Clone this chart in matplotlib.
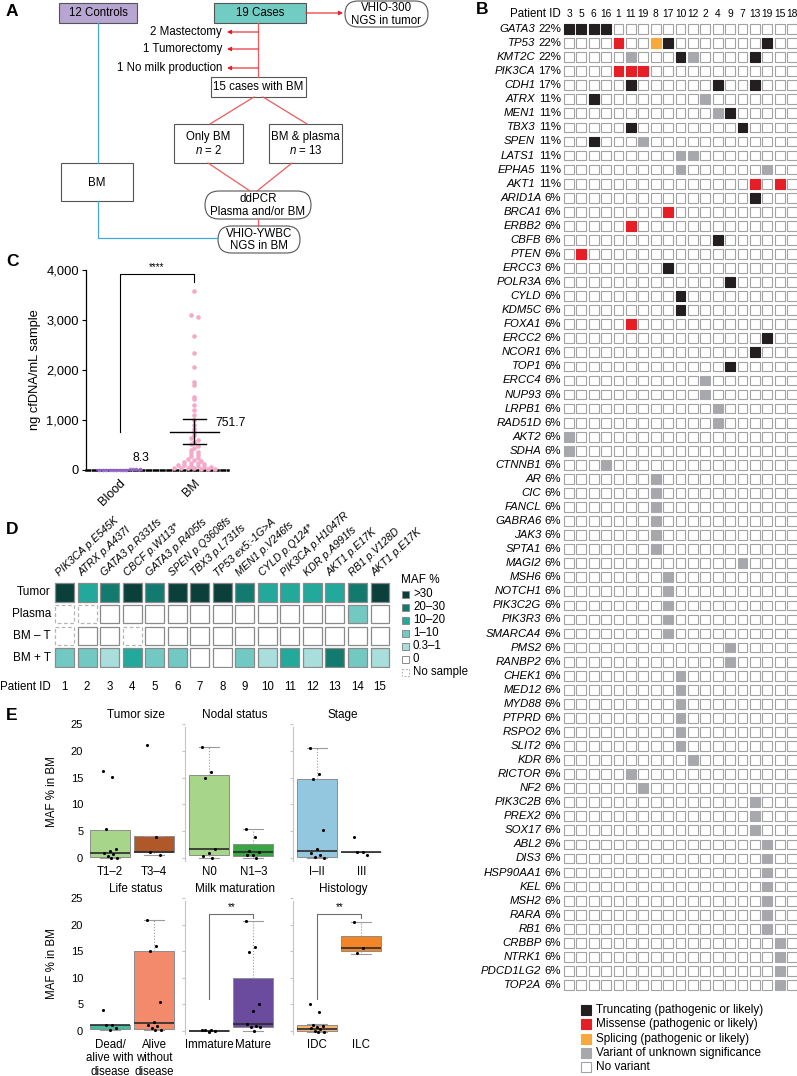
import numpy as np
import matplotlib.pyplot as plt
from matplotlib.patches import Rectangle, FancyBboxPatch

plt.rcParams['font.family'] = ['Liberation Sans', 'DejaVu Sans']
plt.rcParams['mathtext.fontset'] = 'custom'
plt.rcParams['mathtext.rm'] = 'Liberation Sans'
plt.rcParams['mathtext.it'] = 'Liberation Sans:italic'

W, H = 797, 1076
RED = '#f0595d'
BLUE = '#45aadb'
EDGE = '#555555'

# ---------------- panel B: mutations per patient
b_patients = ['3', '5', '6', '16', '1', '11', '19', '8', '17', '10',
              '12', '2', '4', '9', '7', '13', '19', '15', '18']
b_genes = ['GATA3', 'TP53', 'KMT2C', 'PIK3CA', 'CDH1', 'ATRX', 'MEN1', 'TBX3',
           'SPEN', 'LATS1', 'EPHA5', 'AKT1', 'ARID1A', 'BRCA1', 'ERBB2', 'CBFB',
           'PTEN', 'ERCC3', 'POLR3A', 'CYLD', 'KDM5C', 'FOXA1', 'ERCC2', 'NCOR1',
           'TOP1', 'ERCC4', 'NUP93', 'LRPB1', 'RAD51D', 'AKT2', 'SDHA', 'CTNNB1',
           'AR', 'CIC', 'FANCL', 'GABRA6', 'JAK3', 'SPTA1', 'MAGI2', 'MSH6',
           'NOTCH1', 'PIK3C2G', 'PIK3R3', 'SMARCA4', 'PMS2', 'RANBP2', 'CHEK1',
           'MED12', 'MYD88', 'PTPRD', 'RSPO2', 'SLIT2', 'KDR', 'RICTOR', 'NF2',
           'PIK3C2B', 'PREX2', 'SOX17', 'ABL2', 'DIS3', 'HSP90AA1', 'KEL', 'MSH2',
           'RARA', 'RB1', 'CRBBP', 'NTRK1', 'PDCD1LG2', 'TOP2A']
b_freq = [22, 22, 22, 17, 17] + [11] * 7 + [6] * 57
# T truncating, M missense, S splicing, V unknown significance, . none
b_calls = [
    'TTTT...............', '....M..ST.......T..', '.....V...TV....T...',
    '....MMM............', '.....T......T..T...', '..T........V.......',
    '............VT.....', '.....T........T....', '..T...V............',
    '.........VV........', '.........V......V..', '...............M.M.',
    '...............T...', '........M..........', '.....M.............',
    '............T......', '.M.................', '........T..........',
    '.............T.....', '.........T.........', '.........T.........',
    '.....M.............', '................T..', '...............T...',
    '.............T.....', '...........V.......', '...........V.......',
    '............V......', '............V......', 'V..................',
    'V..................', '...V...............', '.......V...........',
    '.......V...........', '.......V...........', '.......V...........',
    '.......V...........', '.......V...........', '..............V....',
    '........V..........', '........V..........', '........V..........',
    '........V..........', '........V..........', '.............V.....',
    '.............V.....', '.........V.........', '.........V.........',
    '.........V.........', '.........V.........', '.........V.........',
    '.........V.........', '..........V........', '.....V.............',
    '......V............', '...............V...', '...............V...',
    '...............V...', '................V..', '................V..',
    '................V..', '................V..', '................V..',
    '................V..', '................V..', '.................V.',
    '.................V.', '.................V.', '.................V.',
]
b_colors = {'T': '#231f20', 'M': '#e61e25', 'S': '#f7a93b', 'V': '#a6a8ab', '.': 'white'}
b_legend = [('T', 'Truncating (pathogenic or likely)'),
            ('M', 'Missense (pathogenic or likely)'),
            ('S', 'Splicing (pathogenic or likely)'),
            ('V', 'Variant of unknown significance'),
            ('.', 'No variant')]

# ---------------- panel C: cfDNA yield
c_groups = ['Blood', 'BM']
c_blood = [2, 4, 5, 6, 7, 8, 8, 9, 10, 11, 12, 13, 13]
c_bm = [3580, 3110, 3060, 2690, 2350, 2070, 1760, 1710, 1460, 1420, 1300, 1200,
        1100, 1000, 900, 820, 760, 700, 650, 600, 560, 520, 480, 440, 400, 370,
        340, 310, 280, 250, 230, 210, 190, 170, 150, 140, 120, 110, 100, 90, 80,
        70, 60, 50, 45, 40, 35, 30, 25, 20]
c_mean_labels = ['8.3', '751.7']

# ---------------- panel D: MAF heatmap
d_variants = ['PIK3CA p.E545K', 'ATRX p.A437I', 'GATA3 p.R331fs', 'CBCF p.W113*',
              'GATA3 p.R405fs', 'SPEN p.Q3608fs', 'TBX3 p.L731fs', 'TP53 ex5:-1G>A',
              'MEN1 p.V246fs', 'CYLD p.Q124*', 'PIK3CA p.H1047R', 'KDR p.A991fs',
              'AKT1 p.E17K', 'RB1 p.V128D', 'AKT1 p.E17K']
d_rows = ['Tumor', 'Plasma', 'BM \u2013 T', 'BM + T']
d_bins = ['0', '0.3\u20131', '1\u201310', '10\u201320', '20\u201330', '>30']
d_colors = ['white', '#a9dedd', '#72c9c4', '#22a99b', '#137a70', '#0b3f3a']
# bin index per cell, -1 = no sample
d_matrix = [
    [5, 3, 4, 5, 4, 5, 5, 5, 4, 3, 3, 3, 3, 4, 5],
    [-1, -1, 0, 0, 0, 0, 0, 0, 0, 0, 0, 0, 0, 2, 0],
    [-1, 0, 0, -1, 0, 0, 0, 0, 0, 0, 0, 0, 0, 0, 0],
    [2, 2, 1, 3, 2, 2, 0, 0, 2, 1, 3, 1, 4, 2, 1],
]

# ---------------- panel E: MAF % in BM by clinical variable
e_titles = ['Tumor size', 'Nodal status', 'Stage',
            'Life status', 'Milk maturation', 'Histology']
e_labels = [['T1\u20132', 'T3\u20134'], ['N0', 'N1\u20133'], ['I\u2013II', 'III'],
            ['Dead/\nalive with\ndisease', 'Alive\nwithout\ndisease'],
            ['Immature', 'Mature'], ['IDC', 'ILC']]
e_colors = [['#a7d68b', '#b0582a'], ['#a7d68b', '#39a544'], ['#93c6df', '#7fb6d6'],
            ['#3dbf9f', '#f48a6c'], ['#4b2d86', '#6a4b9d'], ['#f8b46e', '#f48526']]
# q1, median, q3, whisker low, whisker high
e_boxes = [
    [(0.2, 0.95, 5.3, 0.0, 5.3), (1.05, 1.1, 4.05, 0.5, 4.05)],
    [(0.6, 1.7, 15.4, 0.1, 20.8), (0.4, 1.1, 2.6, 0.0, 5.4)],
    [(0.2, 1.25, 14.75, 0.0, 20.5), (1.05, 1.1, 1.15, 1.05, 1.15)],
    [(0.45, 1.07, 1.2, 0.1, 1.2), (0.45, 1.55, 15.05, 0.1, 20.9)],
    [(0.0, 0.05, 0.1, 0.0, 0.1), (0.75, 1.4, 9.9, 0.0, 20.6)],
    [(-0.05, 0.45, 1.05, -0.1, 1.3), (15.1, 15.55, 17.9, 14.4, 20.5)],
]
e_points = [
    [[16.2, 15.1, 5.4, 1.7, 1.3, 0.9, 0.7, 0.4, 0.1, 0.0], [21.0, 4.0, 1.2, 0.5]],
    [[20.8, 16.0, 15.0, 1.7, 1.0, 0.3, 0.1], [5.4, 4.0, 1.3, 1.2, 0.6, 0.5, 0.1]],
    [[20.5, 15.6, 14.8, 5.3, 1.6, 1.0, 0.5, 0.2, 0.1], [4.0, 1.2, 1.1, 0.5]],
    [[4.0, 1.2, 1.1, 0.5, 0.1], [20.9, 16.0, 15.0, 5.4, 1.7, 1.2, 0.9, 0.5, 0.2, 0.1]],
    [[0.2, 0.1, 0.1, 0.0, -0.2], [20.6, 15.7, 14.8, 5.1, 3.7, 1.3, 1.0, 0.8, 0.7, 0.0]],
    [[5.0, 3.6, 1.2, 1.0, 0.7, 0.5, 0.3, 0.0, -0.1, -0.2], [20.5, 15.6, 14.7]],
]
e_sig = [None, None, None, None, (6.1, 22.0, 21.2), (6.1, 22.0, 21.2)]


fig = plt.figure(figsize=(W / 100, H / 100), dpi=100)


def px_axes(x0, y0, x1, y1):
    return fig.add_axes([x0 / W, 1 - y1 / H, (x1 - x0) / W, (y1 - y0) / H])


ov = fig.add_axes([0, 0, 1, 1])
ov.set_xlim(0, W)
ov.set_ylim(H, 0)
ov.axis('off')

for lab, x, y in [('A', 6, 11), ('B', 476, 9), ('C', 6, 262), ('D', 6, 530), ('E', 6, 716)]:
    ov.text(x, y, lab, fontsize=12.5, fontweight='bold', ha='left', va='center')


# ---------------- panel A flowchart
def box(x0, y0, x1, y1, text, fc='white', rounded=False):
    if rounded:
        p = FancyBboxPatch((x0, y0), x1 - x0, y1 - y0,
                           boxstyle='round,pad=0,rounding_size=%.1f' % ((y1 - y0) / 2),
                           fc=fc, ec=EDGE, lw=0.8)
    else:
        p = Rectangle((x0, y0), x1 - x0, y1 - y0, fc=fc, ec=EDGE, lw=0.8)
    ov.add_patch(p)
    ov.text((x0 + x1) / 2, (y0 + y1) / 2 + 0.5, text, ha='center', va='center',
            fontsize=8.3, linespacing=1.1)


def arrow(x0, x1, y):
    ov.annotate('', xy=(x1, y), xytext=(x0, y),
                arrowprops=dict(arrowstyle='-|>', color='#e61e25', lw=0.8,
                                mutation_scale=6, shrinkA=0, shrinkB=0))


ov.plot([258, 258], [23, 77], color=RED, lw=0.9)
ov.plot([254, 210], [97, 124], color=RED, lw=0.9)
ov.plot([263, 307], [97, 124], color=RED, lw=0.9)
ov.plot([208, 250], [163, 191], color=RED, lw=0.9)
ov.plot([292, 257], [163, 191], color=RED, lw=0.9)
ov.plot([258, 258], [219, 226], color=RED, lw=0.9)
ov.plot([98, 98], [23, 163], color=BLUE, lw=0.9)
ov.plot([98, 98, 218], [201, 238, 238], color=BLUE, lw=0.9)

box(59, 3, 137, 23, '12 Controls', fc='#b7a5d2')
box(214, 3, 306, 23, '19 Cases', fc='#71ccc4')
arrow(306, 343, 13)
box(345, 1, 428, 27, 'VHIO-300\nNGS in tumor', rounded=True)
for y, t in [(32, '2 Mastectomy'), (49, '1 Tumorectomy'), (68, '1 No milk production')]:
    arrow(258, 227, y)
    ov.text(222, y, t, ha='right', va='center', fontsize=8.3)
box(211, 77, 306, 97, '15 cases with BM')
box(174, 124, 243, 163, 'Only BM\n$n$ = 2')
box(269, 124, 342, 163, 'BM & plasma\n$n$ = 13')
box(205, 191, 311, 219, 'ddPCR\nPlasma and/or BM', rounded=True)
box(218, 226, 300, 253, 'VHIO-YWBC\nNGS in BM', rounded=True)
box(61, 163, 133, 201, 'BM')

# ---------------- panel B
n_col = len(b_patients)
n_row = len(b_genes)
row_h = (985 - 29) / (n_row - 1)
col_w = (792 - 569) / (n_col - 1)
bx = px_axes(569 - col_w / 2, 29 - row_h / 2, 792 + col_w / 2, 985 + row_h / 2)
bx.set_xlim(-0.5, n_col - 0.5)
bx.set_ylim(n_row - 0.5, -0.5)
bx.axis('off')

xs, ys, fcs, ecs = [], [], [], []
for j, calls in enumerate(b_calls):
    for i, ch in enumerate(calls):
        xs.append(i)
        ys.append(j)
        fcs.append(b_colors[ch])
        ecs.append('#a3a3a3' if ch == '.' else b_colors[ch])
bx.scatter(xs, ys, s=50, marker='s', c=fcs, edgecolors=ecs, linewidths=0.8, clip_on=False)

for i, pid in enumerate(b_patients):
    bx.text(i, -1.05, pid, ha='center', va='center', fontsize=7.4)
bx.text(-0.65, -1.05, 'Patient ID', ha='right', va='center', fontsize=8.3)
for j, (g, f) in enumerate(zip(b_genes, b_freq)):
    bx.text(-0.65, j, f'{f}%', ha='right', va='center', fontsize=8.2)
    off = -18.6 if f >= 10 else -14.1
    bx.annotate(g, xy=(-0.65, j), xytext=(off, 0), textcoords='offset points',
                ha='right', va='center', fontsize=8.2, style='italic',
                annotation_clip=False)

for k, (code, lab) in enumerate(b_legend):
    y = 1010 + k * 14.3
    ov.add_patch(Rectangle((581, y - 5), 10, 10, fc=b_colors[code],
                           ec='#a3a3a3' if code == '.' else b_colors[code], lw=0.8))
    ov.text(596, y, lab, ha='left', va='center', fontsize=8.5)

# ---------------- panel C
cx = px_axes(86, 270, 228, 470)
cx.set_xlim(-0.45, 1.45)
cx.set_ylim(0, 4000)


def swarm(vals, binsize, step):
    vals = np.asarray(vals, float)
    bins = np.floor(vals / binsize).astype(int)
    offs = np.zeros(len(vals))
    for b in np.unique(bins):
        idx = np.where(bins == b)[0]
        offs[idx] = (np.arange(len(idx)) - (len(idx) - 1) / 2) * step
    return offs


blood = np.array(c_blood, float)
bm = np.array(c_bm, float)
cx.scatter(0 + swarm(blood, 100, 0.045), blood, s=7, color='#a27bd0', lw=0, clip_on=False, zorder=3)
cx.scatter(1 + swarm(bm, 60, 0.09), bm, s=11, color='#f5a9c9', lw=0, clip_on=False, zorder=3)

cx.plot([-0.3, 0.3], [blood.mean()] * 2, color='#8a5cc2', lw=1.2, zorder=4, clip_on=False)
m = bm.mean()
ci = 1.96 * bm.std(ddof=1) / np.sqrt(len(bm))
cx.plot([1 - 0.33, 1 + 0.33], [m, m], color='black', lw=1, zorder=4)
cx.plot([1, 1], [m - ci, m + ci], color='black', lw=1, zorder=4)
for v in (m - ci, m + ci):
    cx.plot([1 - 0.15, 1 + 0.15], [v, v], color='black', lw=1, zorder=4)
cx.text(0.29, 240, c_mean_labels[0], ha='center', va='center', fontsize=8.8)
cx.text(1.28, 940, c_mean_labels[1], ha='left', va='center', fontsize=8.8)

cx.plot([0, 0, 1, 1], [760, 3920, 3920, 3760], color='black', lw=0.8, clip_on=False)
cx.text(0.5, 3960, '****', ha='center', va='bottom', fontsize=7, clip_on=False)

cx.set_yticks([0, 1000, 2000, 3000, 4000])
cx.set_yticklabels([f'{v:,}' for v in [0, 1000, 2000, 3000, 4000]], fontsize=9.3)
cx.set_xticks([0, 1])
cx.set_xticklabels(c_groups, rotation=45, ha='right', rotation_mode='anchor', fontsize=9)
cx.tick_params(axis='x', length=0, pad=5)
cx.tick_params(axis='y', length=3, width=0.8, pad=2)
cx.set_ylabel('ng cfDNA/mL sample', fontsize=9.3, labelpad=4)
for s in ('top', 'right'):
    cx.spines[s].set_visible(False)
cx.spines['left'].set_linewidth(0.9)
cx.spines['bottom'].set_linewidth(1.8)
cx.spines['bottom'].set_linestyle((0, (1.5, 1.2)))

# ---------------- panel D
n_var = len(d_variants)
dx = px_axes(53.25, 581.6, 391.25, 668.4)
dx.set_xlim(-0.5, n_var - 0.5)
dx.set_ylim(len(d_rows) - 0.5, -0.5)
dx.axis('off')
for j, row in enumerate(d_matrix):
    for i, v in enumerate(row):
        if v < 0:
            p = Rectangle((i - 0.42, j - 0.42), 0.84, 0.84, fc='white', ec='#b5b5b5',
                          lw=0.9, ls=(0, (3, 2)))
        else:
            p = Rectangle((i - 0.42, j - 0.42), 0.84, 0.84, fc=d_colors[v], ec='#8a8a8a', lw=0.9)
        dx.add_patch(p)
for j, r in enumerate(d_rows):
    dx.text(-0.6, j, r, ha='right', va='center', fontsize=8.5)
for i, v in enumerate(d_variants):
    dx.text(i - 0.15, -0.66, v, rotation=43, ha='left', va='bottom',
            rotation_mode='anchor', fontsize=7.7, style='italic')
    dx.text(i, 4.35, str(i + 1), ha='center', va='center', fontsize=8.3)
dx.text(-0.6, 4.35, 'Patient ID', ha='right', va='center', fontsize=8.3)

ov.text(401, 580, 'MAF %', ha='left', va='center', fontsize=8.5)
for k, b in enumerate(d_bins[::-1]):
    y = 594 + k * 13
    ov.add_patch(Rectangle((402, y - 3.5), 7, 7, fc=d_colors[::-1][k], ec='#8a8a8a', lw=0.7))
    ov.text(413, y, b, ha='left', va='center', fontsize=8.3)
ov.add_patch(Rectangle((402, 672 - 3.5), 7, 7, fc='white', ec='#b5b5b5', lw=0.7, ls=(0, (2, 1.5))))
ov.text(413, 672, 'No sample', ha='left', va='center', fontsize=8.3)

# ---------------- panel E
lefts = [86, 185, 293]
rows_px = [(721.3, 863.4), (895.3, 1036.3)]
for k in range(6):
    r, c = divmod(k, 3)
    y0, y1 = rows_px[r]
    ax = px_axes(lefts[c], y0, lefts[c] + 100, y1)
    stats = [dict(q1=b[0], med=b[1], q3=b[2], whislo=b[3], whishi=b[4], fliers=[])
             for b in e_boxes[k]]
    bp = ax.bxp(stats, positions=[1, 2], widths=0.9, patch_artist=True, capwidths=0.45,
                showfliers=False, manage_ticks=False,
                boxprops=dict(edgecolor='#8c8c8c', lw=0.7),
                whiskerprops=dict(color='#9a9a9a', lw=0.8, ls=':'),
                capprops=dict(color='#9a9a9a', lw=0.8),
                medianprops=dict(color='#2b2b2b', lw=1.2))
    for patch, col in zip(bp['boxes'], e_colors[k]):
        patch.set_facecolor(col)
    for g in range(2):
        vals = np.array(e_points[k][g], float)
        jit = np.array([((n * 0.618) % 1 - 0.5) * 0.34 for n in range(len(vals))])
        ax.scatter(g + 1 + jit, vals, s=5, color='black', lw=0, zorder=3, clip_on=False)
    if e_sig[k] is not None:
        lo, top, right = e_sig[k]
        ax.plot([1, 1, 2, 2], [lo, top, top, right], color='#6e6e6e', lw=0.8)
        ax.text(1.5, top + 0.4, '**', ha='center', va='bottom', fontsize=7)
    ax.set_xlim(0.45, 2.72)
    ax.set_ylim(-1, 25.5)
    ax.set_title(e_titles[k], fontsize=8.5, pad=1.5)
    ax.set_xticks([1, 2])
    ax.set_xticklabels(e_labels[k], fontsize=8.3, linespacing=1.15)
    ax.tick_params(axis='x', length=0, pad=2)
    ax.set_yticks([0, 5, 10, 15, 20, 25])
    for s in ('top', 'right', 'bottom'):
        ax.spines[s].set_visible(False)
    if c == 0:
        ax.spines['left'].set_visible(False)
        ax.tick_params(axis='y', length=0, pad=2, labelsize=8)
    else:
        ax.spines['left'].set_color('#c4c4c4')
        ax.spines['left'].set_linewidth(0.8)
        ax.spines['left'].set_bounds(-0.5, 24.5)
        ax.tick_params(axis='y', length=2.5, color='#c4c4c4', labelleft=False)
    ax.patch.set_alpha(0)

ov.text(52, 792, 'MAF % in BM', rotation=90, ha='center', va='center', fontsize=8.3)
ov.text(52, 964, 'MAF % in BM', rotation=90, ha='center', va='center', fontsize=8.3)

fig.savefig('out.png', dpi=100)
